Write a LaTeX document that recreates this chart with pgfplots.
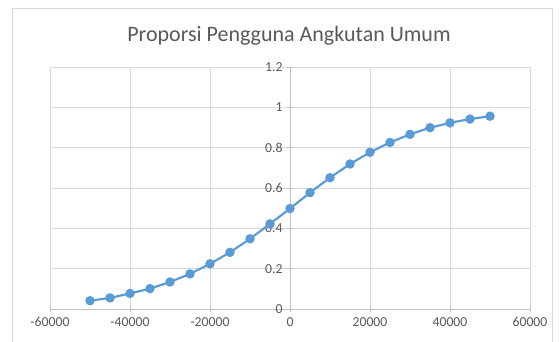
\documentclass[border=0pt]{standalone}
\usepackage{pgfplots}
\pgfplotsset{compat=1.18}
\usepackage{fontspec}
\setmainfont{Carlito}
\definecolor{excelblue}{HTML}{5B9BD5}
\definecolor{gridgray}{HTML}{D9D9D9}
\definecolor{axisgray}{HTML}{BFBFBF}
\definecolor{textgray}{HTML}{595959}
\definecolor{framegray}{HTML}{D9D9D9}
\begin{document}
\begin{tikzpicture}[x=0.75pt,y=0.75pt]
\path[use as bounding box,fill=white] (0,0) rectangle (560,342);
\draw[framegray,line width=0.75pt] (12,-5) -- (12,333) -- (552,333) -- (552,-5);
\begin{axis}[
  at={(37.5pt,24.75pt)}, anchor=south west,
  scale only axis, width=360pt, height=181.5pt,
  xmin=-60000, xmax=60000, ymin=0, ymax=1.2,
  axis lines=middle,
  scaled x ticks=false, scaled y ticks=false,
  hide obscured x ticks=false, hide obscured y ticks=false,
  axis line style={-, axisgray, line width=0.6pt},
  xtick={-60000,-40000,-20000,0,20000,40000,60000},
  xticklabels={-60000,-40000,-20000,0,20000,40000,60000},
  ytick={0,0.2,0.4,0.6,0.8,1,1.2},
  yticklabels={0,0.2,0.4,0.6,0.8,1,1.2},
  grid=major,
  major grid style={gridgray, line width=0.6pt},
  tick style={axisgray, line width=0.6pt},
  major tick length=4pt,
  tick align=center,
  x tick label style={font=\fontsize{10.3}{12}\selectfont, text=textgray, yshift=-3pt, inner sep=1pt},
  y tick label style={font=\fontsize{10.3}{12}\selectfont, text=textgray},
  xticklabel pos=lower,
  /pgf/number format/assume math mode=true,
  clip=false,
]
\addplot[color=excelblue, line width=1.6pt, mark=*, mark size=2.7pt,
  mark options={fill=excelblue, draw=excelblue}] coordinates {
(-50000,0.041) (-45000,0.055) (-40000,0.077) (-35000,0.101) (-30000,0.134)
(-25000,0.174) (-20000,0.224) (-15000,0.281) (-10000,0.348) (-5000,0.422)
(0,0.498) (5000,0.577) (10000,0.651) (15000,0.719) (20000,0.777)
(25000,0.826) (30000,0.866) (35000,0.899) (40000,0.923) (45000,0.942) (50000,0.956)
};
\end{axis}
\node[text=textgray, font=\fontsize{16.5}{19}\selectfont] at (289,306) {Proporsi Pengguna Angkutan Umum};
\end{tikzpicture}
\end{document}
